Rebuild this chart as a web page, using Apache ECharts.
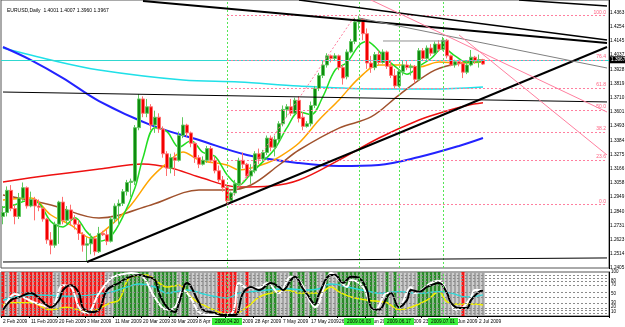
<!DOCTYPE html>
<html>
<head>
<meta charset="utf-8">
<script src="https://cdn.jsdelivr.net/npm/echarts@6/dist/echarts.min.js"></script>
<style>
  html, body { margin: 0; padding: 0; background: #fff; }
  #main { width: 625px; height: 327px; }
</style>
</head>
<body>
<div id="main"></div>
<script>
// EURUSD daily, Feb - Jul 2009
const chartTitle = 'EURUSD,Daily  1.4001 1.4007 1.3960 1.3967';
const dateLabels = ['2 Feb 2009', '11 Feb 2009', '20 Feb 2009', '3 Mar 2009', '11 Mar 2009', '20 Mar 2009',
  '30 Mar 2009', '8 Apr 2009', '17 Apr 2009', '28 Apr 2009', '7 May 2009', '17 May 2009', '26 May 2009',
  '5 Jun 2009', '15 Jun 2009', '23 Jun 2009', '29 Jun 2009', '2 Jul 2009'];
const totalSlots = 152; // bars + empty shift on the right

// [open, high, low, close]
const candles = [
  [1.2800,1.2880,1.2740,1.2830],[1.2830,1.3030,1.2800,1.3000],[1.3000,1.3040,1.2840,1.2860],[1.2860,1.2890,1.2740,1.2800],
  [1.2800,1.2980,1.2780,1.2940],[1.2940,1.3060,1.2920,1.3020],[1.3020,1.3030,1.2860,1.2880],[1.2880,1.2990,1.2870,1.2930],
  [1.2930,1.2950,1.2770,1.2880],[1.2880,1.2930,1.2840,1.2870],[1.2860,1.2870,1.2760,1.2780],[1.2780,1.2790,1.2590,1.2620],
  [1.2620,1.2680,1.2510,1.2580],[1.2580,1.2760,1.2560,1.2740],[1.2740,1.2920,1.2590,1.2910],[1.2910,1.2950,1.2740,1.2770],
  [1.2770,1.2880,1.2730,1.2850],[1.2850,1.2890,1.2730,1.2780],[1.2780,1.2810,1.2700,1.2740],[1.2740,1.2770,1.2620,1.2670],
  [1.2660,1.2680,1.2530,1.2580],[1.2580,1.2640,1.2457,1.2590],[1.2590,1.2670,1.2510,1.2630],[1.2630,1.2650,1.2500,1.2530],
  [1.2530,1.2720,1.2520,1.2670],[1.2670,1.2690,1.2650,1.2660],[1.2660,1.2700,1.2580,1.2610],[1.2610,1.2800,1.2600,1.2780],
  [1.2780,1.2900,1.2750,1.2880],[1.2880,1.2930,1.2730,1.2900],[1.2900,1.3010,1.2880,1.2990],[1.2990,1.3080,1.2960,1.3060],
  [1.3060,1.3090,1.2950,1.3070],[1.3070,1.3500,1.3040,1.3480],[1.3480,1.3738,1.3460,1.3700],[1.3700,1.3720,1.3560,1.3590],
  [1.3590,1.3700,1.3560,1.3640],[1.3640,1.3660,1.3460,1.3500],[1.3500,1.3610,1.3440,1.3560],[1.3560,1.3590,1.3440,1.3470],
  [1.3470,1.3490,1.3250,1.3280],[1.3280,1.3300,1.3110,1.3170],[1.3170,1.3280,1.3130,1.3250],[1.3250,1.3290,1.3110,1.3230],
  [1.3230,1.3450,1.3220,1.3420],[1.3420,1.3560,1.3400,1.3500],[1.3500,1.3510,1.3410,1.3440],[1.3440,1.3450,1.3330,1.3360],
  [1.3360,1.3370,1.3210,1.3250],[1.3250,1.3270,1.3170,1.3200],[1.3200,1.3260,1.3190,1.3230],[1.3230,1.3340,1.3210,1.3320],
  [1.3320,1.3340,1.3210,1.3230],[1.3230,1.3260,1.3130,1.3150],[1.3150,1.3190,1.3060,1.3080],[1.3080,1.3110,1.2990,1.3020],
  [1.3020,1.3040,1.2890,1.2920],[1.2920,1.2990,1.2900,1.2980],[1.2980,1.3080,1.2960,1.3050],[1.3050,1.3250,1.3030,1.3230],
  [1.3230,1.3290,1.3170,1.3200],[1.3200,1.3210,1.3090,1.3110],[1.3110,1.3200,1.3050,1.3150],[1.3150,1.3300,1.3130,1.3280],
  [1.3280,1.3320,1.3200,1.3240],[1.3240,1.3310,1.3220,1.3290],[1.3290,1.3420,1.3270,1.3400],[1.3400,1.3420,1.3300,1.3330],
  [1.3330,1.3420,1.3260,1.3390],[1.3390,1.3530,1.3370,1.3510],[1.3510,1.3650,1.3490,1.3620],[1.3620,1.3660,1.3560,1.3640],
  [1.3640,1.3700,1.3570,1.3590],[1.3590,1.3710,1.3580,1.3690],[1.3690,1.3720,1.3520,1.3550],[1.3560,1.3600,1.3460,1.3490],
  [1.3490,1.3530,1.3480,1.3510],[1.3510,1.3680,1.3490,1.3650],[1.3650,1.3800,1.3630,1.3780],[1.3780,1.3900,1.3760,1.3880],
  [1.3880,1.3990,1.3860,1.3960],[1.3960,1.4050,1.3940,1.4030],[1.4030,1.4040,1.3980,1.4010],[1.4010,1.4050,1.3990,1.4030],
  [1.4030,1.4040,1.3920,1.3940],[1.3940,1.3960,1.3810,1.3860],[1.3870,1.4080,1.3850,1.4060],[1.4060,1.4160,1.4050,1.4140],
  [1.4140,1.4320,1.4120,1.4290],[1.4290,1.4338,1.4230,1.4310],[1.4310,1.4320,1.4150,1.4200],[1.4200,1.4240,1.3930,1.3975],
  [1.3975,1.4030,1.3900,1.3940],[1.3940,1.4060,1.3920,1.4040],[1.4040,1.4070,1.3960,1.3980],[1.3980,1.4080,1.3970,1.4060],
  [1.4060,1.4070,1.3930,1.3950],[1.3950,1.3990,1.3860,1.3880],[1.3880,1.3930,1.3780,1.3800],[1.3800,1.3930,1.3790,1.3910],
  [1.3910,1.3990,1.3880,1.3960],[1.3960,1.3990,1.3920,1.3940],[1.3940,1.3970,1.3880,1.3950],[1.3950,1.3960,1.3820,1.3850],
  [1.3850,1.4090,1.3840,1.4070],[1.4070,1.4090,1.3990,1.4010],[1.4010,1.4110,1.4000,1.4090],[1.4090,1.4120,1.4030,1.4050],
  [1.4050,1.4140,1.4040,1.4120],[1.4120,1.4150,1.4060,1.4080],[1.4080,1.4175,1.4070,1.4150],[1.4150,1.4160,1.4010,1.4030],
  [1.4030,1.4040,1.3950,1.3960],[1.3960,1.4000,1.3940,1.3985],[1.3985,1.4000,1.3950,1.3970],[1.3970,1.3990,1.3860,1.3905],
  [1.3905,1.3990,1.3890,1.3960],[1.3960,1.4075,1.3950,1.4020],[1.4020,1.4030,1.3970,1.3990],[1.3990,1.4040,1.3940,1.4001],
  [1.4001,1.4007,1.3960,1.3967]
];

// moving averages, [bar index, price] read at intervals
const maGreen = [[0,1.2870],[3,1.2890],[6,1.2920],[9,1.2900],[12,1.2760],[15,1.2720],[18,1.2790],[21,1.2680],[24,1.2610],
  [27,1.2650],[30,1.2800],[33,1.3020],[35,1.3250],[38,1.3480],[41,1.3450],[44,1.3330],[47,1.3380],[50,1.3290],[53,1.3260],
  [56,1.3120],[59,1.3040],[62,1.3130],[65,1.3220],[68,1.3320],[71,1.3480],[74,1.3600],[77,1.3580],[80,1.3720],[83,1.3920],
  [86,1.3980],[89,1.4110],[91,1.4140],[93,1.4100],[95,1.4030],[98,1.3950],[101,1.3890],[104,1.3950],[107,1.4010],
  [110,1.4090],[113,1.4030],[116,1.3980],[119,1.3985],[120,1.3990]];
const maOrange = [[0,1.2926],[7,1.2941],[12,1.2811],[17,1.2734],[22,1.2635],[27,1.2734],[32,1.2888],[37,1.3094],[41,1.3209],
  [45,1.3294],[49,1.3232],[56,1.3194],[59,1.3156],[62,1.3171],[66,1.3209],[69,1.3255],[74,1.3363],[79,1.3539],[84,1.3692],
  [89,1.3860],[94,1.3960],[99,1.3960],[104,1.3945],[109,1.3983],[114,1.3975],[120,1.3983]];
const maBrown = [[0,1.2964],[12,1.2888],[24,1.2788],[37,1.2888],[49,1.3002],[56,1.3002],[62,1.3041],[69,1.3194],[74,1.3309],
  [84,1.3477],[92,1.3562],[99,1.3730],[107,1.3906],[112,1.3960],[120,1.3998]];
const maRed = [[0,1.3064],[12,1.3117],[24,1.3163],[35,1.3202],[42,1.3171],[49,1.3102],[59,1.3025],[67,1.3033],[74,1.3079],
  [84,1.3232],[94,1.3401],[104,1.3539],[110,1.3600],[116,1.3650],[120,1.3670]];
const maBlue = [[0,1.4098],[7,1.3998],[15,1.3860],[24,1.3684],[37,1.3500],[49,1.3385],[61,1.3271],[74,1.3209],[84,1.3186],
  [94,1.3194],[104,1.3255],[114,1.3340],[120,1.3401]];
const maCyan = [[0,1.4090],[12,1.3998],[24,1.3922],[45,1.3845],[59,1.3830],[74,1.3799],[94,1.3776],[107,1.3776],[120,1.3792]];

// hand drawn objects: [bar index, price]
const trendLines = [
  { pts: [[35,1.4450],[151,1.4129]], color: '#000', width: 2 },
  { pts: [[74,1.4458],[151,1.4151]], color: '#000', width: 1.5 },
  { pts: [[129,1.4458],[151,1.4412]], color: '#000', width: 1.5 },
  { pts: [[21,1.2451],[151,1.4098]], color: '#000', width: 2 },
  { pts: [[0,1.3753],[151,1.3677]], color: '#000', width: 1 },
  { pts: [[0,1.2451],[151,1.2482]], color: '#000', width: 1 },
  { pts: [[89,1.4320],[151,1.3937]], color: '#808080', width: 1 },
  { pts: [[95,1.4144],[111,1.4144]], color: '#909090', width: 1 },
  { pts: [[92,1.4458],[151,1.3600]], color: '#ff7f9f', width: 1 },
  { pts: [[114,1.4190],[151,1.3271]], color: '#ff7f9f', width: 1 },
  { pts: [[56,1.2890],[88,1.4338]], color: '#ff7f9f', width: 1, dash: [2, 2] }
];
const fibStart = 56;
const fibLow = 1.2890;
const fibHigh = 1.4338;
const fibLevels = [0, 23.6, 38.2, 50, 61.8, 76.4, 100];
const vLines = [56, 89, 99, 110];
const vLineLabels = ['2009.04.20', '2009.06.03', '2009.06.17', '2009.07.01'];

// indicator window
const stripes = 'rnrrnrrrrrrrrnnrrrrrrrrrrrnngggggggggnggggggnggnnnnnnnrrrrrnnrnnnngggnnngnggnggnngnngggggggggg' +
  'nngngnnnnnggggggnnnnnrnnnnn';
const stripeColors = { r: '#f01818', g: '#2a8a2a', n: '#a4a4a4' };
const oscBlack = [[0,14],[2,36],[4,43],[7,52],[9,41],[12,20],[14,36],[15,59],[17,70],[19,52],[20,18],[22,9],[24,14],
  [26,59],[29,75],[31,86],[34,93],[36,89],[38,82],[39,52],[41,20],[43,9],[44,30],[46,75],[49,30],[50,14],[53,7],[55,2],
  [58,2],[60,52],[62,66],[64,59],[67,75],[69,66],[70,59],[72,82],[73,89],[75,62],[76,50],[78,27],[79,50],[82,93],[83,93],
  [85,75],[87,89],[89,86],[91,59],[92,20],[94,14],[96,43],[97,52],[99,20],[101,36],[102,59],[104,55],[106,66],[107,70],
  [109,75],[111,52],[112,30],[114,18],[116,18],[117,36],[119,55],[120,58]];
const oscWhite = [[0,14],[3,50],[5,43],[8,30],[12,20],[15,70],[17,66],[19,20],[21,7],[24,52],[27,86],[29,93],[32,98],
  [35,89],[38,41],[41,14],[43,20],[45,59],[47,40],[49,9],[52,2],[57,5],[59,75],[61,64],[64,64],[66,75],[69,52],[72,89],
  [74,82],[77,30],[78,20],[81,86],[82,98],[84,82],[86,66],[87,82],[90,66],[92,20],[93,14],[96,52],[97,52],[99,20],
  [102,66],[103,52],[107,75],[109,80],[112,30],[113,14],[115,20],[117,43],[118,59],[120,59]];
const oscCyan = [[0,36],[4,45],[9,48],[16,45],[26,52],[31,66],[34,73],[38,66],[41,52],[46,59],[51,48],[56,41],[59,52],
  [62,55],[66,59],[71,62],[76,59],[79,62],[82,73],[87,64],[91,57],[94,52],[99,55],[104,52],[109,55],[112,52],[116,43],[120,48]];
const oscYellow = [[0,25],[2,30],[7,30],[12,14],[16,20],[21,9],[27,30],[29,36],[32,89],[36,93],[38,82],[41,66],[44,70],
  [47,43],[49,30],[55,5],[57,2],[61,20],[64,43],[67,52],[71,59],[74,52],[79,52],[82,66],[84,55],[87,43],[91,36],[96,30],
  [99,14],[102,20],[106,36],[109,55],[111,32],[114,27],[118,27],[120,25]];
const oscLevels = [93, 86, 80, 70, 55, 43, 30, 18, 14, 7];
const oscLabels = [100, 80, 70, 50, 30, 20, 10, 0];

const priceMin = 1.2405;
const priceMax = 1.4458;
const priceStep = 0.010877;
const lastClose = candles[candles.length - 1][3];

const font = 'Arial, "Liberation Sans", sans-serif';
const slots = Array.from({ length: totalSlots }, (_, i) => i);

const chart = echarts.init(document.getElementById('main'));

const maSeries = (data, color, width) => ({
  type: 'line', xAxisIndex: 0, yAxisIndex: 0, data, smooth: 0.35, showSymbol: false, silent: true,
  lineStyle: { color, width }, z: 3
});
const oscSeries = (data, color, width) => ({
  type: 'line', xAxisIndex: 1, yAxisIndex: 1, data, smooth: 0.4, showSymbol: false, silent: true,
  lineStyle: { color, width }, z: 4
});

const blue = maSeries(maBlue, '#2323ff', 2);
blue.markLine = {
  silent: true, symbol: ['none', 'none'], animation: false,
  label: { show: false },
  lineStyle: { color: '#55e655', type: [2, 2], width: 1 },
  data: vLines.map(i => [{ coord: [i, priceMin] }, { coord: [i, priceMax] }])
};

const black = oscSeries(oscBlack, '#000', 2);
black.markLine = {
  silent: true, symbol: ['none', 'none'], animation: false,
  lineStyle: { color: '#55e655', type: [2, 2], width: 1 },
  label: {
    show: true, position: 'start', formatter: '{b}', distance: 2,
    backgroundColor: '#3cf03c', color: '#000', fontSize: 4.8, fontFamily: font, padding: [1, 3]
  },
  data: vLines.map((i, k) => [{ name: vLineLabels[k], coord: [i, 0] }, { coord: [i, 100] }])
};

const option = {
  animation: false,
  backgroundColor: '#fff',
  title: {
    text: chartTitle, left: 2, top: 3,
    textStyle: { fontSize: 5, fontWeight: 'normal', color: '#000', fontFamily: font }
  },
  grid: [
    { left: 1, top: 0, width: 608, height: 268, show: true, borderColor: '#555', borderWidth: 1, outerBoundsMode: 'none' },
    { left: 1, top: 272, width: 608, height: 44, show: true, borderColor: '#555', borderWidth: 1, outerBoundsMode: 'none' }
  ],
  xAxis: [
    { type: 'category', gridIndex: 0, data: slots, boundaryGap: true,
      axisLine: { show: false }, axisTick: { show: false }, axisLabel: { show: false }, splitLine: { show: false } },
    { type: 'category', gridIndex: 1, data: slots, boundaryGap: true,
      axisLine: { show: true, lineStyle: { color: '#000' } },
      axisTick: { show: true, length: 2, interval: i => i % 7 === 0 && i / 7 < dateLabels.length, lineStyle: { color: '#000' } },
      axisLabel: {
        show: true, interval: 0, margin: 3, fontSize: 4.8, fontFamily: font, color: '#000', align: 'left',
        formatter: (v, i) => (i % 7 === 0 && dateLabels[i / 7]) ? dateLabels[i / 7] : ''
      },
      splitLine: { show: false } }
  ],
  yAxis: [
    { type: 'value', gridIndex: 0, position: 'right', min: priceMin, max: priceMax, interval: priceStep,
      axisLine: { show: true, lineStyle: { color: '#000' } },
      axisTick: { show: true, length: 1, lineStyle: { color: '#000' } },
      axisLabel: { fontSize: 4.7, margin: 1, color: '#000', fontFamily: font, showMaxLabel: false,
        formatter: v => v.toFixed(4) },
      splitLine: { show: false } },
    { type: 'value', gridIndex: 1, position: 'right', min: 0, max: 100, interval: 10,
      axisLine: { show: true, lineStyle: { color: '#000' } },
      axisTick: { show: false },
      axisLabel: { fontSize: 4.5, margin: 2, color: '#000', fontFamily: font,
        formatter: v => oscLabels.includes(v) ? String(v) : '' },
      splitLine: { show: false } }
  ],
  series: [
    {
      type: 'bar', xAxisIndex: 1, yAxisIndex: 1, silent: true, z: 1,
      barCategoryGap: '22%',
      data: stripes.split('').map(s => ({ value: 100, itemStyle: { color: stripeColors[s] } })),
      markLine: {
        silent: true, symbol: ['none', 'none'], animation: false, label: { show: false },
        lineStyle: { color: '#8a8a8a', type: [2, 2], width: 1 },
        data: oscLevels.map(v => ({ yAxis: v }))
      }
    },
    oscSeries(oscYellow, '#f0f000', 1.5),
    oscSeries(oscCyan, '#2fd8d8', 1.5),
    oscSeries(oscWhite, '#ffffff', 2),
    black,
    maSeries(maCyan, '#20e0e8', 1.5),
    blue,
    maSeries(maRed, '#ee1111', 1.5),
    maSeries(maBrown, '#a0522d', 1.5),
    maSeries(maOrange, '#ffa500', 1.5),
    maSeries(maGreen, '#22dd22', 1.5),
    ...trendLines.map(t => ({
      type: 'line', xAxisIndex: 0, yAxisIndex: 0, data: t.pts, showSymbol: false, silent: true, z: 5,
      lineStyle: { color: t.color, width: t.width, type: t.dash || 'solid' }
    })),
    {
      type: 'candlestick', xAxisIndex: 0, yAxisIndex: 0, z: 4, barWidth: 3,
      data: candles.map(c => [c[0], c[3], c[2], c[1]]),
      itemStyle: { color: '#0f8a0f', color0: '#f20000', borderColor: '#5fc85f', borderColor0: '#ff6f6f', borderWidth: 1 },
      markLine: {
        silent: true, symbol: ['none', 'none'], animation: false,
        data: [
          { yAxis: lastClose, lineStyle: { color: '#30d8d0', type: 'solid', width: 1 },
            label: { show: true, position: 'end', formatter: lastClose.toFixed(4), distance: 1,
              backgroundColor: '#000', color: '#fff', fontSize: 4.7, fontFamily: font, padding: [1, 1] } },
          ...fibLevels.map(r => {
            const p = fibLow + (fibHigh - fibLow) * r / 100;
            return [
              { name: r.toFixed(1), coord: [fibStart, p],
                lineStyle: { color: '#ff7f9f', type: [2, 2], width: 1 },
                label: { show: true, position: 'insideEndTop', formatter: '{b}', distance: 1,
                  color: '#ff5f7f', fontSize: 5, fontFamily: font } },
              { coord: [totalSlots - 1, p] }
            ];
          })
        ]
      }
    }
  ]
};

chart.setOption(option);
</script>
</body>
</html>
